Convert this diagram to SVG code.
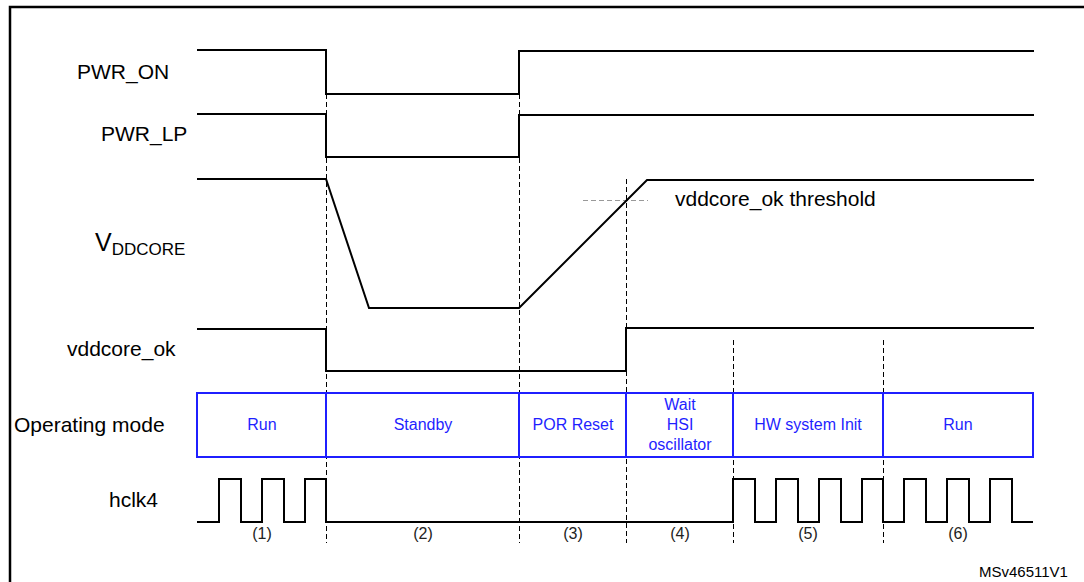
<svg xmlns="http://www.w3.org/2000/svg" width="1084" height="582" viewBox="0 0 1084 582">
<style>
.sig{fill:none;stroke:#000;stroke-width:2}
.dash{fill:none;stroke:#000;stroke-width:1;stroke-dasharray:5 3}
.thr{fill:none;stroke:#999;stroke-width:1;stroke-dasharray:5 3}
.lbl{font-family:"Liberation Sans",Arial,sans-serif;font-size:21px;fill:#000}
.mode{fill:none;stroke:#1f1fff;stroke-width:2}
.mt{font-family:"Liberation Sans",Arial,sans-serif;font-size:16px;fill:#1f1fff;text-anchor:middle}
.num{font-family:"Liberation Sans",Arial,sans-serif;font-size:16px;fill:#222;text-anchor:middle}
</style>
<rect width="1084" height="582" fill="#fff"/>
<path d="M10,590 V7 H1090" fill="none" stroke="#000" stroke-width="2.5"/>

<g id="connectors">
<line class="dash" x1="326.5" y1="94" x2="326.5" y2="543"/>
<line class="dash" x1="519.5" y1="94" x2="519.5" y2="543"/>
<line class="dash" x1="626.5" y1="179" x2="626.5" y2="543"/>
<line class="dash" x1="733.5" y1="340" x2="733.5" y2="543"/>
<line class="dash" x1="883.5" y1="340" x2="883.5" y2="543"/>
<line class="thr" x1="583" y1="200.5" x2="648" y2="200.5"/>
</g>

<g id="pwr_on">
<text class="lbl" x="77" y="79">PWR_ON</text>
<path class="sig" d="M197,50 H326 V94 H519 V51 H1034"/>
</g>
<g id="pwr_lp">
<text class="lbl" x="101" y="141">PWR_LP</text>
<path class="sig" d="M197,114 H326 V157 H519 V115 H1034"/>
</g>
<g id="vddcore">
<text class="lbl" x="95" y="251" style="font-size:25px">V<tspan style="font-size:17px" dy="4">DDCORE</tspan></text>
<path class="sig" d="M197,179 H326 L369,308 H519 L647,180 H1034"/>
<text class="lbl" x="675" y="206">vddcore_ok threshold</text>
</g>
<g id="vddcore_ok">
<text class="lbl" x="67" y="356">vddcore_ok</text>
<path class="sig" d="M197,329 H326 V371 H626 V328 H1034"/>
</g>
<g id="operating_mode">
<text class="lbl" x="14" y="432">Operating mode</text>
<rect class="mode" x="197" y="393" width="836" height="64"/>
<line class="mode" x1="326" y1="393" x2="326" y2="457"/>
<line class="mode" x1="519" y1="393" x2="519" y2="457"/>
<line class="mode" x1="626" y1="393" x2="626" y2="457"/>
<line class="mode" x1="733" y1="393" x2="733" y2="457"/>
<line class="mode" x1="883" y1="393" x2="883" y2="457"/>
<text class="mt" x="262" y="430">Run</text>
<text class="mt" x="423" y="430">Standby</text>
<text class="mt" x="573" y="430">POR Reset</text>
<text class="mt" x="680" y="410">Wait</text>
<text class="mt" x="680" y="430">HSI</text>
<text class="mt" x="680" y="450">oscillator</text>
<text class="mt" x="808" y="430">HW system Init</text>
<text class="mt" x="958" y="430">Run</text>
</g>
<g id="hclk4">
<text class="lbl" x="109" y="507">hclk4</text>
<path class="sig" d="M197,522 H219 V479 H241 V522 H262 V479 H284 V522 H305 V479 H326 V522 H733 V479 H755 V522 H776 V479 H798 V522 H819 V479 H841 V522 H862 V479 H883 V522 H904 V479 H926 V522 H947 V479 H969 V522 H990 V479 H1012 V522 H1033"/>
<text class="num" x="262" y="539">(1)</text>
<text class="num" x="423" y="539">(2)</text>
<text class="num" x="573" y="539">(3)</text>
<text class="num" x="680" y="539">(4)</text>
<text class="num" x="808" y="539">(5)</text>
<text class="num" x="958" y="539">(6)</text>
</g>
<text x="979" y="577" style="font-family:'Liberation Sans',Arial,sans-serif;font-size:15px;fill:#000">MSv46511V1</text>
</svg>
